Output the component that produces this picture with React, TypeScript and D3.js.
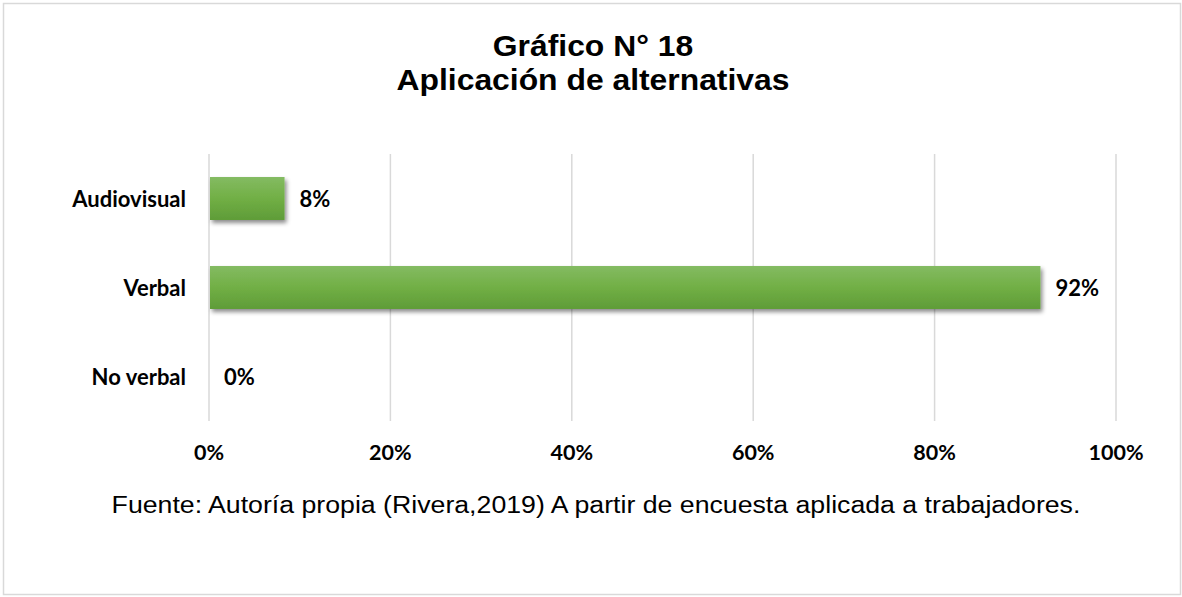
import React from "react";
import * as d3 from "d3";

const categories = ["Audiovisual", "Verbal", "No verbal"];
const values = [8.33, 91.67, 0];
const xTicks = [0, 20, 40, 60, 80, 100];
const titleLines = ["Gráfico N° 18", "Aplicación de alternativas"];
const sourceText = "Fuente: Autoría propia (Rivera,2019) A partir de encuesta aplicada a trabajadores.";

const W = 1182;
const H = 597;
const plot = { left: 209, right: 1116, top: 154, bottom: 421 };

export default function App() {
  const x = d3.scaleLinear().domain([0, 100]).range([plot.left, plot.right]);
  const y = d3
    .scaleBand<string>()
    .domain(categories)
    .range([plot.top, plot.bottom])
    .paddingInner(0.517)
    .paddingOuter(0.2585);

  const labelFont = "Lato, 'Open Sans', sans-serif";
  const arial = "'Liberation Sans', Arial, sans-serif";

  return (
    <div style={{ position: "absolute", left: 0, top: 0 }}>
      <svg width={W} height={H} style={{ display: "block", background: "#fff" }}>
        <defs>
          <linearGradient id="barGrad" x1="0" y1="0" x2="0" y2="1">
            <stop offset="0%" stopColor="#84bb62" />
            <stop offset="50%" stopColor="#71af45" />
            <stop offset="100%" stopColor="#5f9c38" />
          </linearGradient>
          <filter id="shadow" x="-10%" y="-30%" width="130%" height="180%">
            <feDropShadow dx="2" dy="3" stdDeviation="2.2" floodColor="#000" floodOpacity="0.45" />
          </filter>
        </defs>
        <rect x={3.5} y={3.5} width={W - 5} height={H - 6} fill="#fff" stroke="#d9d9d9" strokeWidth={1.5} />

        <g
          transform={`translate(593,0) scale(1.08,1)`}
          textAnchor="middle"
          fontFamily={arial}
          fontWeight="bold"
          fontSize={29.5}
          fill="#000"
        >
          <text x={0} y={56}>{titleLines[0]}</text>
          <text x={0} y={90}>{titleLines[1]}</text>
        </g>

        {xTicks.map((t) => (
          <line key={"g" + t} x1={x(t)} x2={x(t)} y1={plot.top} y2={plot.bottom} stroke="#d9d9d9" strokeWidth={1.5} />
        ))}

        {categories.map((c, i) =>
          values[i] > 0 ? (
            <rect
              key={"b" + c}
              x={x(0) + 1}
              y={y(c)!}
              width={x(values[i]) - x(0) - 1}
              height={y.bandwidth()}
              fill="url(#barGrad)"
              filter="url(#shadow)"
            />
          ) : null
        )}

        <g fontFamily={labelFont} fontWeight="bold" fontSize={22} fill="#000">
          {categories.map((c) => (
            <text key={"c" + c} x={186} y={y(c)! + y.bandwidth() / 2} dy="0.37em" textAnchor="end">
              {c}
            </text>
          ))}
          {categories.map((c, i) => (
            <text key={"v" + c} x={x(values[i]) + 15} y={y(c)! + y.bandwidth() / 2} dy="0.37em" textAnchor="start">
              {Math.round(values[i]) + "%"}
            </text>
          ))}
        </g>
        <g fontFamily={labelFont} fontWeight="bold" fontSize={21.5} fill="#000">
          {xTicks.map((t) => (
            <text key={"t" + t} x={x(t)} y={460} textAnchor="middle">
              {t + "%"}
            </text>
          ))}
        </g>

        <g transform={`translate(596,0) scale(1.09,1)`}>
          <text x={0} y={513.5} textAnchor="middle" fontFamily={arial} fontSize={24.5} fill="#000">
            {sourceText}
          </text>
        </g>
      </svg>
    </div>
  );
}
